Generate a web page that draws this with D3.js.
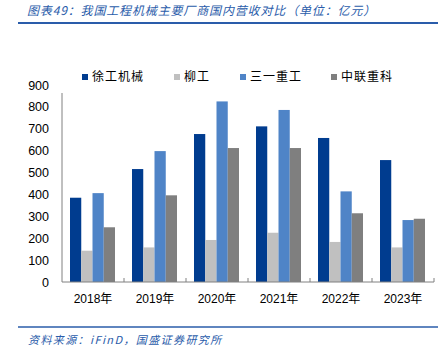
<!DOCTYPE html>
<html><head><meta charset="utf-8">
<script src="https://cdn.jsdelivr.net/npm/d3@7"></script>
<style>body{margin:0;background:#fff}svg{display:block}</style>
</head><body>
<script>
const categories = ["2018年","2019年","2020年","2021年","2022年","2023年"];
const seriesNames = ["徐工机械","柳工","三一重工","中联重科"];
const xugong = [385, 516, 676, 711, 658, 557];
const liugong = [143, 158, 192, 225, 183, 158];
const sany = [406, 598, 825, 786, 414, 283];
const zoomlion = [250, 396, 612, 612, 314, 289];
const yTicks = [0,100,200,300,400,500,600,700,800,900];
const colors = ["#003C8F","#C0C0C0","#4F84C7","#7F7F7F"];
const seriesValues = [xugong, liugong, sany, zoomlion];

const W = 441, H = 352;
const svg = d3.select("body").append("svg").attr("width", W).attr("height", H);

// title
svg.append("text").attr("x", 27).attr("y", 15)
  .attr("font-family", "'Noto Sans CJK SC', sans-serif").attr("font-size", 12)
  .attr("letter-spacing", 0.85)
  .attr("font-style", "italic").attr("fill", "#2A5CAA")
  .text("图表49：我国工程机械主要厂商国内营收对比（单位：亿元）");
svg.append("line").attr("x1", 18).attr("x2", 438).attr("y1", 23).attr("y2", 23)
  .attr("stroke", "#2A5CAA").attr("stroke-width", 2);

// footer
svg.append("line").attr("x1", 18).attr("x2", 438).attr("y1", 327).attr("y2", 327)
  .attr("stroke", "#2A5CAA").attr("stroke-width", 1.5);
svg.append("text").attr("x", 28).attr("y", 344)
  .attr("font-family", "'Noto Sans CJK SC', sans-serif").attr("font-size", 11)
  .attr("letter-spacing", 1.4)
  .attr("font-style", "italic").attr("fill", "#2A5CAA")
  .text("资料来源：iFinD，国盛证券研究所");

const x0 = d3.scaleBand().domain(categories).range([62, 434]).paddingInner(0).paddingOuter(0);
const x1 = d3.scaleBand().domain(seriesNames).range([8, x0.bandwidth() - 9]);
const y = d3.scaleLinear().domain([0, 900]).range([282, 85]);

// bars
const g = svg.append("g");
categories.forEach((c, i) => {
  seriesNames.forEach((s, j) => {
    const v = seriesValues[j][i];
    g.append("rect")
      .attr("x", x0(c) + x1(s))
      .attr("y", y(v))
      .attr("width", x1.bandwidth())
      .attr("height", y(0) - y(v))
      .attr("fill", colors[j]);
  });
});

// y axis
const yAxis = d3.axisLeft(y).tickValues(yTicks).tickSize(0).tickPadding(13);
const ya = svg.append("g").attr("transform", "translate(62,0)").call(yAxis);
ya.select(".domain").remove();
ya.selectAll("text").attr("font-family", "'Liberation Sans', Arial, sans-serif")
  .attr("font-size", 12.5).attr("fill", "#000");
svg.append("line").attr("x1", 62).attr("x2", 62).attr("y1", 93).attr("y2", 282)
  .attr("stroke", "#808080").attr("stroke-width", 1);

// x axis
const xAxis = d3.axisBottom(x0).tickSize(0).tickPadding(12);
const xa = svg.append("g").attr("transform", "translate(0,282)").call(xAxis);
xa.select(".domain").remove();
xa.selectAll("text").attr("font-family", "'Liberation Sans', 'Noto Sans CJK SC', sans-serif")
  .attr("font-size", 12).attr("fill", "#000");
svg.append("line").attr("x1", 62).attr("x2", 434).attr("y1", 282).attr("y2", 282)
  .attr("stroke", "#808080").attr("stroke-width", 1);
const bounds = categories.map(c => x0(c)).concat([x0.range()[1]]);
svg.selectAll(".xt").data(bounds.slice(1)).enter().append("line")
  .attr("x1", d => d).attr("x2", d => d).attr("y1", 278).attr("y2", 282)
  .attr("stroke", "#808080");

// legend
const legX = [82, 174, 240, 331];
const leg = svg.append("g");
seriesNames.forEach((s, j) => {
  leg.append("rect").attr("x", legX[j]).attr("y", 74).attr("width", 6).attr("height", 6).attr("fill", colors[j]);
  leg.append("text").attr("x", legX[j] + 10).attr("y", 81)
    .attr("font-family", "'Noto Sans CJK SC', sans-serif").attr("font-size", 12)
    .attr("letter-spacing", 1).attr("fill", "#000").text(s);
});
</script>
</body></html>
